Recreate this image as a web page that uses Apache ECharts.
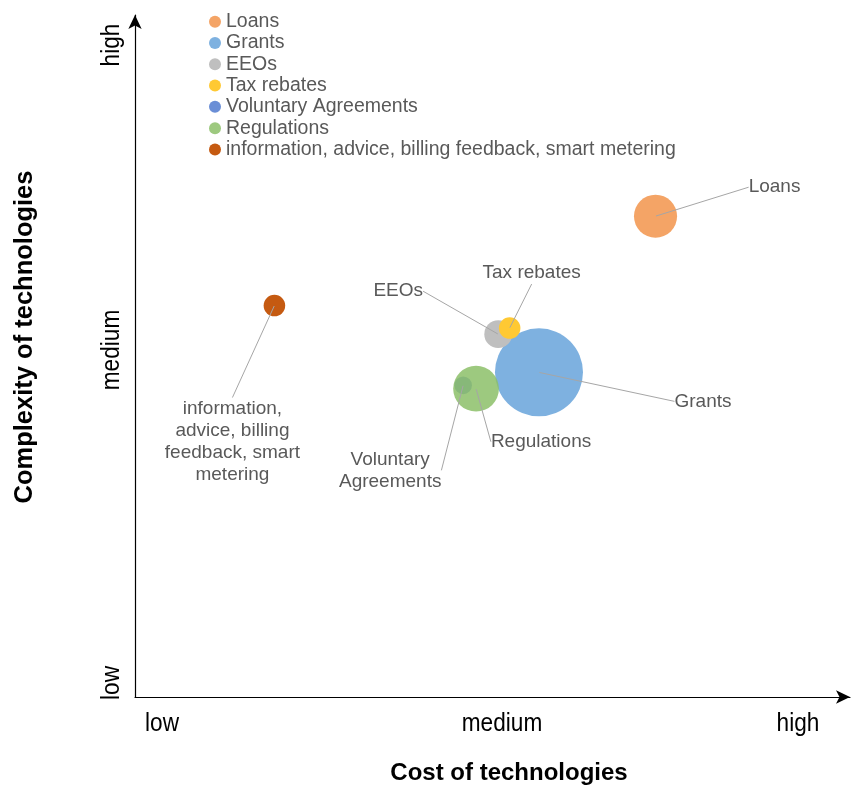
<!DOCTYPE html>
<html>
<head>
<meta charset="utf-8">
<script src="https://cdn.jsdelivr.net/npm/echarts@6/dist/echarts.min.js"></script>
<style>
html,body{margin:0;padding:0;background:#fff;}
#chart{width:851px;height:787px;}
</style>
</head>
<body>
<div id="chart"></div>
<script>
// ---- data ----
const seriesNames = ['Loans', 'Grants', 'EEOs', 'Tax rebates', 'Voluntary Agreements', 'Regulations', 'information, advice, billing feedback, smart metering'];
const costValues = [7.28, 5.65, 5.08, 5.24, 4.59, 4.77, 1.95];
const complexityValues = [7.05, 4.76, 5.32, 5.41, 4.57, 4.52, 5.74];
const bubbleSizes = [24, 100, 10, 6, 4, 27, 6];
const pointLabels = ['Loans', 'Grants', 'EEOs', 'Tax rebates', 'Voluntary\nAgreements', 'Regulations', 'information,\nadvice, billing\nfeedback, smart\nmetering'];
const xTickLabels = ['low', 'medium', 'high'];
const yTickLabels = ['low', 'medium', 'high'];
const xAxisTitle = 'Cost of technologies';
const yAxisTitle = 'Complexity of technologies';

// ---- styling ----
const colors = ['#F4A466', '#7EB1E0', '#BFBFBF', '#FFC933', '#6A8ED6', 'rgba(140,192,104,0.85)', '#C55A11'];
const labelOffsets = [[119, -29], [164, 29], [-100, -43], [22, -55], [-73, 85], [65, 53], [-42, 136]];
const tickFont = '"Liberation Sans",Arial,sans-serif';
const textFont = '"Liberation Sans",Arial,sans-serif';
const xTickPos = [[162, 724], [502, 724], [798, 724]];
const yTickPos = [[112, 683], [112, 350], [112, 45]];

const chart = echarts.init(document.getElementById('chart'), null, {renderer: 'canvas'});

const series = seriesNames.map((name, i) => ({
  name: name,
  type: 'scatter',
  data: [[costValues[i], complexityValues[i], bubbleSizes[i]]],
  symbol: 'circle',
  symbolSize: v => 8.8 * Math.sqrt(v[2]),
  itemStyle: {color: colors[i], opacity: 1},
  emphasis: {disabled: true},
  z: 2 + i
}));

// label carrier: a tiny invisible point at each bubble centre, so leader lines reach the centre
series.push({
  name: 'labels',
  type: 'scatter',
  data: costValues.map((x, i) => ({value: [x, complexityValues[i]], name: pointLabels[i]})),
  symbol: 'circle',
  symbolSize: 1,
  itemStyle: {color: 'rgba(0,0,0,0)', opacity: 1},
  emphasis: {disabled: true},
  silent: true,
  z: 20,
  label: {
    show: true,
    position: 'inside',
    formatter: p => pointLabels[p.dataIndex],
    color: '#595959',
    fontFamily: textFont,
    fontSize: 19,
    lineHeight: 22,
    align: 'center'
  },
  labelLine: {show: true, lineStyle: {color: '#A6A6A6', width: 1, opacity: 1}},
  labelLayout: p => ({dx: labelOffsets[p.dataIndex][0], dy: labelOffsets[p.dataIndex][1]})
});

const graphics = [];
xTickLabels.forEach((t, i) => graphics.push({
  type: 'text', x: xTickPos[i][0], y: xTickPos[i][1], scaleX: 0.87,
  style: {text: t, font: '26px ' + tickFont, fill: '#000', align: 'center', verticalAlign: 'middle'}
}));
yTickLabels.forEach((t, i) => graphics.push({
  type: 'text', x: yTickPos[i][0], y: yTickPos[i][1], rotation: Math.PI / 2, scaleX: 0.87,
  style: {text: t, font: '26px ' + tickFont, fill: '#000', align: 'center', verticalAlign: 'middle'}
}));
graphics.push({
  type: 'text', x: 509, y: 773,
  style: {text: xAxisTitle, font: 'bold 24px ' + textFont, fill: '#000', align: 'center', verticalAlign: 'middle'}
});
graphics.push({
  type: 'text', x: 25, y: 337, rotation: Math.PI / 2,
  style: {text: yAxisTitle, font: 'bold 25.5px ' + textFont, fill: '#000', align: 'center', verticalAlign: 'middle'}
});

chart.setOption({
  animation: false,
  backgroundColor: '#fff',
  grid: {left: 135, right: 1, top: 15, bottom: 90, containLabel: false},
  legend: {
    orient: 'vertical',
    left: 204,
    top: 6,
    icon: 'circle',
    itemWidth: 12,
    itemHeight: 12,
    itemGap: 0,
    data: seriesNames,
    textStyle: {color: '#595959', fontFamily: textFont, fontSize: 19.5, lineHeight: 21.3}
  },
  xAxis: {
    type: 'value', min: 0, max: 10, interval: 5,
    axisLine: {show: true, lineStyle: {color: '#000', width: 1.2}, symbol: ['none', 'arrow'], symbolSize: [10, 14]},
    axisTick: {show: false}, axisLabel: {show: false}, splitLine: {show: false}
  },
  yAxis: {
    type: 'value', min: 0, max: 10, interval: 5,
    axisLine: {show: true, lineStyle: {color: '#000', width: 1.2}, symbol: ['none', 'arrow'], symbolSize: [10, 14]},
    axisTick: {show: false}, axisLabel: {show: false}, splitLine: {show: false}
  },
  graphic: graphics,
  series: series
});
</script>
</body>
</html>
